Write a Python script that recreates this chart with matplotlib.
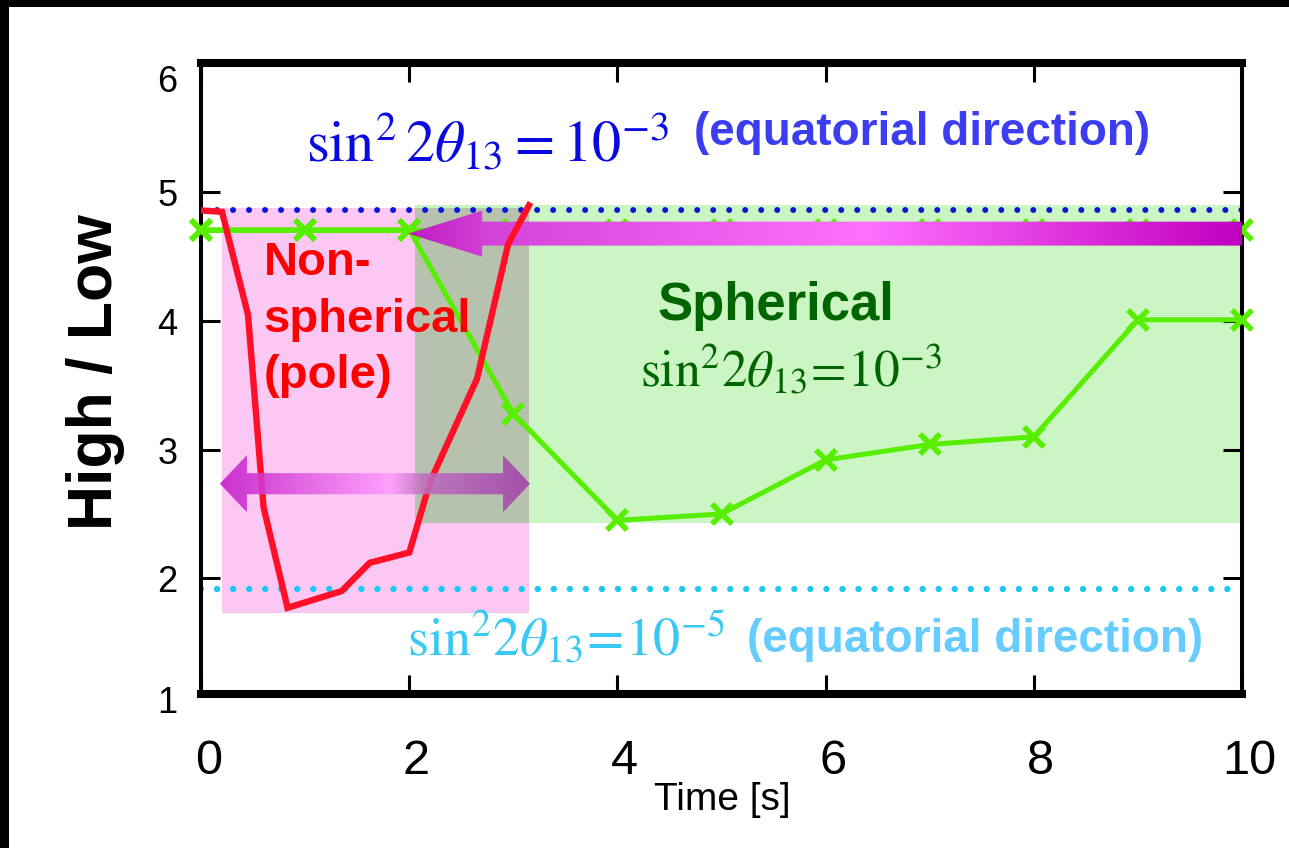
import numpy as np
import matplotlib
matplotlib.use("Agg")
import matplotlib.pyplot as plt
from matplotlib.patches import Polygon, Rectangle
from matplotlib.colors import LinearSegmentedColormap
from matplotlib.transforms import ScaledTranslation

plt.rcParams['mathtext.fontset'] = 'stix'
plt.rcParams['font.family'] = ['Liberation Sans', 'DejaVu Sans']

# data
time_sph = [0, 1, 2, 3, 4, 5, 6, 7, 8, 9, 10]
ratio_sph = [4.71, 4.71, 4.71, 3.28, 2.45, 2.50, 2.92, 3.04, 3.10, 4.01, 4.01]
ratio_ref = [4.71] * 11

time_pole = [0, 0.2, 0.45, 0.6, 0.83, 1.35, 1.62, 2.0, 2.2, 2.43, 2.65, 2.95, 3.15]
ratio_pole = [4.86, 4.85, 4.05, 2.55, 1.77, 1.9, 2.12, 2.2, 2.75, 3.16, 3.55, 4.6, 4.9]

level_e3 = 4.86   # sin^2 2theta13 = 1e-3, equatorial
level_e5 = 1.92   # sin^2 2theta13 = 1e-5, equatorial

pole_box = (0.2, 3.15, 1.73, 4.88)   # x0, x1, y0, y1
sph_box = (2.05, 10.0, 2.43, 4.9)

fig = plt.figure(figsize=(12.894, 8.484), dpi=100)
ax = fig.add_axes([0.156, 0.1816, 0.8072, 0.7441])

# black frame bits of the slide
fig.patches.append(Rectangle((0, 1 - 7 / 848), 1, 7 / 848, transform=fig.transFigure,
                             fc='black', lw=0, zorder=10))
fig.patches.append(Rectangle((0, 0), 9 / 1289, 1, transform=fig.transFigure,
                             fc='black', lw=0, zorder=10))

# shaded regions
ax.add_patch(Rectangle((pole_box[0], pole_box[2]), pole_box[1] - pole_box[0],
                       pole_box[3] - pole_box[2], fc='#fac8f3', ec='none', zorder=1))
ax.add_patch(Rectangle((sph_box[0], sph_box[2]), sph_box[1] - sph_box[0],
                       sph_box[3] - sph_box[2], fc='#ccf5c4', ec='none', zorder=1.1))
ox0, ox1 = max(pole_box[0], sph_box[0]), min(pole_box[1], sph_box[1])
oy0, oy1 = max(pole_box[2], sph_box[2]), min(pole_box[3], sph_box[3])
ax.add_patch(Rectangle((ox0, oy0), ox1 - ox0, oy1 - oy0, fc='#b6c2ae', ec='none', zorder=1.2))

# dotted reference levels
ax.plot([0, 10], [level_e3, level_e3], color='#0a14e0', lw=4.3,
        linestyle=(0, (0.01, 2.67)), dash_capstyle='round', zorder=2)
ax.plot([0, 10], [level_e5, level_e5], color='#1ec8f5', lw=4.6,
        linestyle=(0, (0.01, 2.5)), dash_capstyle='round', zorder=2)

# green curves
ax.plot(time_sph, ratio_ref, color='#58ee00', lw=3.6, marker='x', ms=15, mew=4,
        zorder=3, clip_on=False)
ax.plot(time_sph, ratio_sph, color='#58ee00', lw=3.6, marker='x', ms=15, mew=4,
        zorder=3.1, clip_on=False)


def gradient_arrow(verts, stops, colors, alpha, z):
    poly = Polygon(verts, closed=True, fc='none', ec='none')
    ax.add_patch(poly)
    xs = [v[0] for v in verts]
    ys = [v[1] for v in verts]
    cmap = LinearSegmentedColormap.from_list('g', list(zip(stops, colors)))
    grad = np.linspace(0, 1, 512).reshape(1, -1)
    im = ax.imshow(grad, cmap=cmap, extent=(min(xs), max(xs), min(ys), max(ys)),
                   aspect='auto', alpha=alpha, zorder=z, interpolation='bilinear')
    im.set_clip_path(poly)


# big arrow pointing left
yc, hh, sh = 4.68, 0.179, 0.093
tip, base, tail = 1.99, 2.70, 10.0
gradient_arrow([(tip, yc), (base, yc + hh), (base, yc + sh), (tail, yc + sh),
                (tail, yc - sh), (base, yc - sh), (base, yc - hh)],
               [0, 0.1, 0.55, 1], ['#c01cc0', '#d444d8', '#ff70ff', '#c000c0'], 1.0, 4)

# red curve (pole)
ax.plot(time_pole, ratio_pole, color='#ff1028', lw=4.6, zorder=5, solid_joinstyle='miter')

# double arrow
yc2, hh2, sh2, hl2 = 2.735, 0.222, 0.082, 0.26
a0, a1 = 0.18, 3.16
gradient_arrow([(a0, yc2), (a0 + hl2, yc2 + hh2), (a0 + hl2, yc2 + sh2), (a1 - hl2, yc2 + sh2),
                (a1 - hl2, yc2 + hh2), (a1, yc2), (a1 - hl2, yc2 - hh2), (a1 - hl2, yc2 - sh2),
                (a0 + hl2, yc2 - sh2), (a0 + hl2, yc2 - hh2)],
               [0, 0.55, 0.65, 1], ['#c41cc8', '#ff9cff', '#c070c0', '#a040a8'], 0.88, 6)

# annotations
ax.text(1.01, 5.24, r'$\sin^2 2\theta_{13} = 10^{-3}$', color='#0a0ae0', fontsize=42,
        ha='left', va='baseline', zorder=8)
ax.text(4.74, 5.37, '(equatorial direction)', color='#3c3cf0', fontsize=33,
        fontweight='bold', ha='left', va='baseline', zorder=8)
ax.text(1.98, 1.40, r'$\sin^2\!2\theta_{13}\!=\!10^{-5}$', color='#38c8f5', fontsize=39,
        ha='left', va='baseline', zorder=8)
ax.text(5.24, 1.43, '(equatorial direction)', color='#66ccff', fontsize=33,
        fontweight='bold', ha='left', va='baseline', zorder=8)
ax.text(4.38, 4.01, 'Spherical', color='#006400', fontsize=38, fontweight='bold',
        ha='left', va='baseline', zorder=8)
ax.text(4.22, 3.49, r'$\sin^2\!2\theta_{13}\!=\!10^{-3}$', color='#006400', fontsize=37,
        ha='left', va='baseline', zorder=8)
for i, line in enumerate(['Non-', 'spherical', '(pole)']):
    ax.text(0.6, 4.36 - i * 0.44, line, color='#ff0000', fontsize=34, fontweight='bold',
            ha='left', va='baseline', zorder=8)

# axes styling
ax.set_xlim(0, 10)
ax.set_ylim(1.10, 6.01)
ax.set_xticks([0, 2, 4, 6, 8, 10])
ax.set_xticklabels(['0', '2', '4', '6', '8', '10'], fontsize=35)
ax.set_yticks([2, 3, 4, 5])
ax.set_yticklabels(['2', '3', '4', '5'], fontsize=26)
ax.tick_params(axis='both', direction='in', length=14, width=2.2, top=True, right=True)
ax.tick_params(axis='x', pad=32)
ax.tick_params(axis='y', pad=17)
for lab in ax.get_xticklabels():
    lab.set_transform(lab.get_transform() + ScaledTranslation(0.07, 0, fig.dpi_scale_trans))
ax.text(-0.023, 5.86, '6', transform=ax.get_yaxis_transform(), fontsize=26,
        ha='right', va='center')
ax.text(-0.023, 1.03, '1', transform=ax.get_yaxis_transform(), fontsize=26,
        ha='right', va='center', clip_on=False)
for side in ['top', 'bottom']:
    ax.spines[side].set_linewidth(5.8)
for side in ['left', 'right']:
    ax.spines[side].set_linewidth(2.9)

fig.text(95 / 1289, 1 - 372 / 848, 'High / Low', rotation=90, fontsize=45, fontweight='bold',
         ha='center', va='center')
fig.text(722 / 1289, 1 - 800 / 848, 'Time [s]', fontsize=28, ha='center', va='center')

fig.savefig('out.png', dpi=100)
